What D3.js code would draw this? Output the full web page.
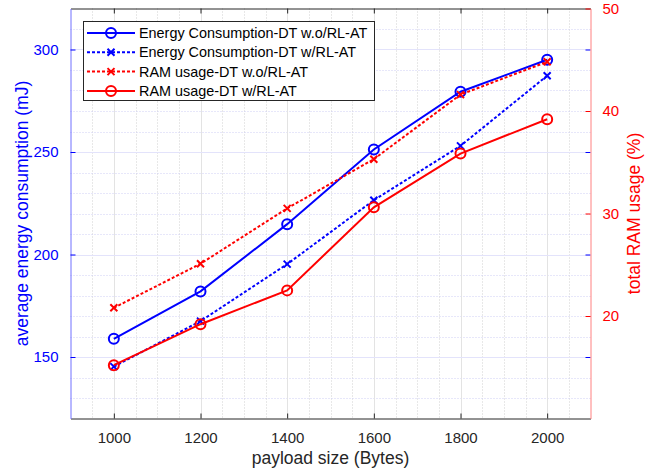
<!DOCTYPE html>
<html><head><meta charset="utf-8">
<script src="https://cdn.jsdelivr.net/npm/d3@7"></script>
<style>body{margin:0;background:#fff}svg{display:block;font-family:"Liberation Sans",Arial,sans-serif}</style>
</head><body><svg id="c" width="665" height="473"></svg>
<script>
const payload = [1000, 1200, 1400, 1600, 1800, 2000];
const energyWo = [158.9, 182, 214.8, 251.2, 279.4, 295];
const energyW = [145.3, 167.5, 195.3, 226.5, 253, 287.2];
const ramWo = [20.8, 25.1, 30.5, 35.3, 41.6, 44.8];
const ramW = [15.2, 19.2, 22.5, 30.6, 35.85, 39.2];
const xTicks = [1000, 1200, 1400, 1600, 1800, 2000];
const leftTicks = [150, 200, 250, 300];
const rightTicks = [20, 30, 40, 50];
const legendLabels = ["Energy Consumption-DT w.o/RL-AT", "Energy Consumption-DT w/RL-AT", "RAM usage-DT w.o/RL-AT", "RAM usage-DT w/RL-AT"];

const svg = d3.select("#c");
const L = 70.5, R = 590.5, T = 8.5, B = 418.5;
const x = d3.scaleLinear().domain([900, 2100]).range([L, R]);
const yL = d3.scaleLinear().domain([120, 320]).range([B, T]);
const yR = d3.scaleLinear().domain([10, 50]).range([B, T]);
const BLUE = "#0000ff", RED = "#ff0000";

const g = svg.append("g");
// minor grid
g.selectAll(".mx").data(d3.range(950, 2100, 50).filter(v => v % 200 !== 0)).enter().append("line")
  .attr("x1", d => Math.round(x(d)) + .5).attr("x2", d => Math.round(x(d)) + .5).attr("y1", T).attr("y2", B)
  .attr("stroke", "#d0d0d0").attr("stroke-dasharray", "1,2");
g.selectAll(".my").data(d3.range(130, 320, 10).filter(v => v % 50 !== 0)).enter().append("line")
  .attr("y1", d => Math.round(yL(d)) + .5).attr("y2", d => Math.round(yL(d)) + .5).attr("x1", L).attr("x2", R)
  .attr("stroke", "#cfcff5").attr("stroke-dasharray", "1,2");
// major grid
g.selectAll(".Mx").data(xTicks).enter().append("line")
  .attr("x1", d => Math.round(x(d)) + .5).attr("x2", d => Math.round(x(d)) + .5).attr("y1", T).attr("y2", B)
  .attr("stroke", "#e3e3e3");
g.selectAll(".My").data(leftTicks).enter().append("line")
  .attr("y1", d => Math.round(yL(d)) + .5).attr("y2", d => Math.round(yL(d)) + .5).attr("x1", L).attr("x2", R)
  .attr("stroke", "#e3e3fb");

// series
const series = [
  {vals: energyWo, y: yL, color: BLUE, dash: null, marker: "o"},
  {vals: energyW, y: yL, color: BLUE, dash: "3,2", marker: "x"},
  {vals: ramWo, y: yR, color: RED, dash: "3,2", marker: "x"},
  {vals: ramW, y: yR, color: RED, dash: null, marker: "o"}
];
function drawMarker(sel, type, color) {
  if (type === "o") {
    sel.append("circle").attr("r", 5).attr("fill", "none").attr("stroke", color).attr("stroke-width", 2);
  } else {
    sel.append("path").attr("d", "M-3.5,-3.5L3.5,3.5M-3.5,3.5L3.5,-3.5").attr("stroke", color).attr("stroke-width", 2);
  }
}
series.forEach(s => {
  const line = d3.line().x((d, i) => x(payload[i])).y(d => s.y(d));
  g.append("path").datum(s.vals).attr("d", line).attr("fill", "none").attr("stroke", s.color)
    .attr("stroke-width", 2).attr("stroke-dasharray", s.dash);
  s.vals.forEach((v, i) => {
    const m = g.append("g").attr("transform", `translate(${x(payload[i])},${s.y(v)})`);
    drawMarker(m, s.marker, s.color);
  });
});

// axes
const axB = d3.axisBottom(x).tickValues(xTicks).tickFormat(d3.format("d")).tickSizeInner(-5).tickSizeOuter(0).tickPadding(14);
const gb = svg.append("g").attr("transform", `translate(0,${B})`).call(axB);
gb.select(".domain").attr("stroke", "#262626");
gb.selectAll(".tick line").attr("stroke", "#262626");
gb.selectAll("text").attr("fill", "#262626").style("font-size", "15px").attr("dy", "0.71em");

const axT = d3.axisTop(x).tickValues(xTicks).tickSizeInner(-5).tickSizeOuter(0).tickFormat("");
const gt = svg.append("g").attr("transform", `translate(0,${T})`).call(axT);
gt.select(".domain").attr("stroke", "#262626");
gt.selectAll(".tick line").attr("stroke", "#262626");

const axL = d3.axisLeft(yL).tickValues(leftTicks).tickSizeInner(-5).tickSizeOuter(0).tickPadding(12);
const gl = svg.append("g").attr("transform", `translate(${L},0)`).call(axL);
gl.select(".domain").attr("stroke", "#7070ff");
gl.selectAll(".tick line").attr("stroke", BLUE);
gl.selectAll("text").attr("fill", BLUE).style("font-size", "15px");

// blue ticks on right side
const glr = svg.append("g").attr("transform", `translate(${R},0)`).call(d3.axisRight(yL).tickValues(leftTicks).tickSizeInner(-5).tickSizeOuter(0).tickFormat(""));
glr.select(".domain").remove();
glr.selectAll(".tick line").attr("stroke", BLUE);

const axR = d3.axisRight(yR).tickValues(rightTicks).tickSizeInner(-5).tickSizeOuter(0).tickPadding(12);
const gr = svg.append("g").attr("transform", `translate(${R},0)`).call(axR);
gr.select(".domain").attr("stroke", "#ff8080");
gr.selectAll(".tick line").attr("stroke", RED);
gr.selectAll("text").attr("fill", RED).style("font-size", "15px");

// axis labels
svg.append("text").attr("x", (L + R) / 2).attr("y", 464).attr("text-anchor", "middle")
  .attr("fill", "#262626").style("font-size", "17.5px").text("payload size (Bytes)");
svg.append("text").attr("transform", `translate(28,${(T + B) / 2}) rotate(-90)`).attr("text-anchor", "middle")
  .attr("fill", BLUE).style("font-size", "17.5px").text("average energy consumption (mJ)");
svg.append("text").attr("transform", `translate(640,${(T + B) / 2}) rotate(-90)`).attr("text-anchor", "middle")
  .attr("fill", RED).style("font-size", "17.5px").text("total RAM usage (%)");

// legend
const lg = svg.append("g");
lg.append("rect").attr("x", 83.5).attr("y", 21.5).attr("width", 291).attr("height", 79)
  .attr("fill", "#fff").attr("stroke", "#262626").attr("stroke-width", 1);
series.forEach((s, i) => {
  const yy = 33 + i * 19.3;
  lg.append("line").attr("x1", 87).attr("x2", 135).attr("y1", yy).attr("y2", yy)
    .attr("stroke", s.color).attr("stroke-width", 2).attr("stroke-dasharray", s.dash);
  const m = lg.append("g").attr("transform", `translate(111,${yy})`);
  drawMarker(m, s.marker, s.color);
  lg.append("text").attr("x", 139).attr("y", yy + 5).attr("fill", "#000").style("font-size", "14.4px").text(legendLabels[i]);
});
</script></body></html>
